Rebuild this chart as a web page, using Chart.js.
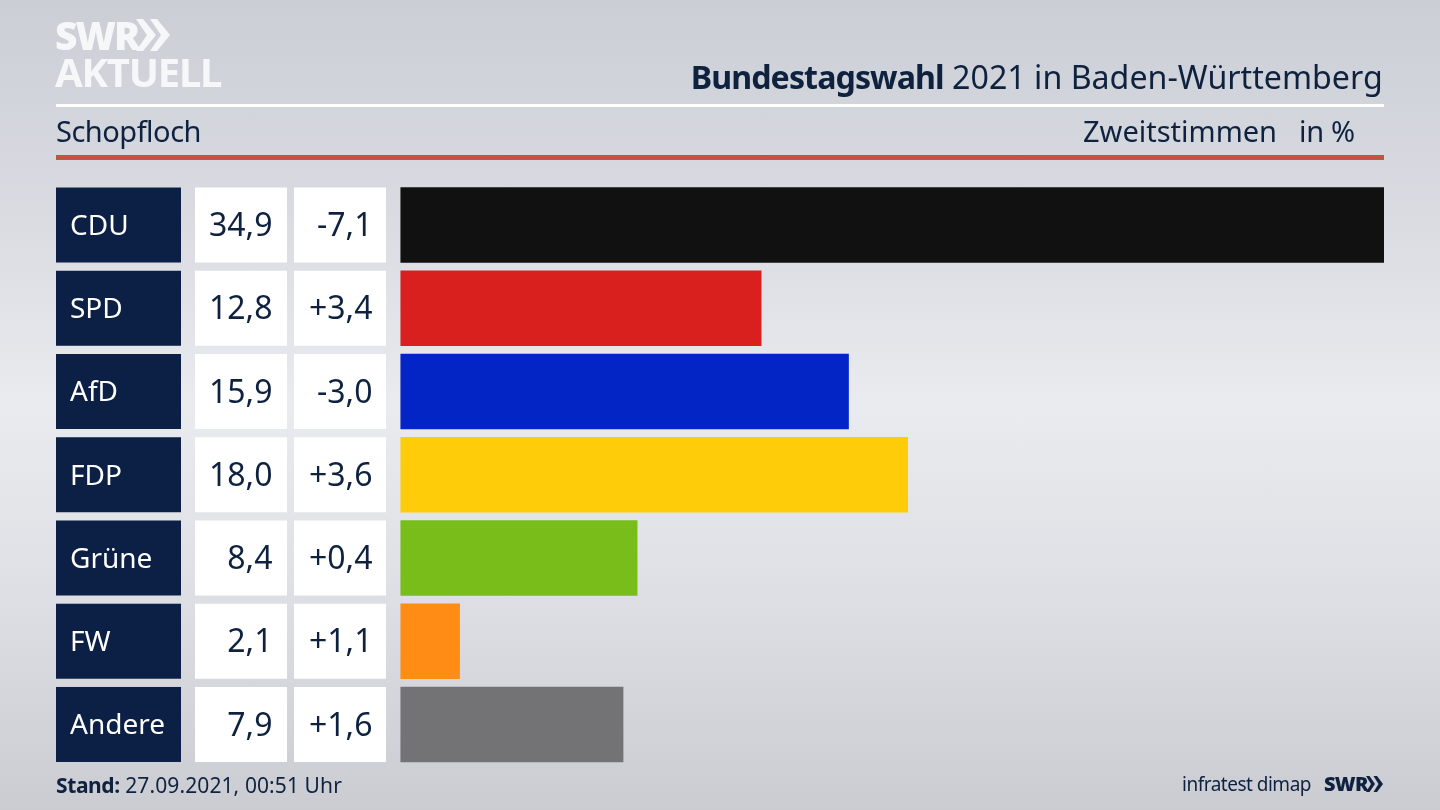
<!DOCTYPE html>
<html lang="de">
<head>
<meta charset="utf-8">
<title>Bundestagswahl 2021 in Baden-Württemberg</title>
<script src="https://cdn.jsdelivr.net/npm/chart.js@4"></script>
<style>
  html, body { margin: 0; padding: 0; }
  body {
    width: 1440px; height: 810px; overflow: hidden; position: relative;
    background: linear-gradient(180deg, #cbced5 0%, #dadce2 28%, #eaebef 50%, #dfe0e5 72%, #caccd2 100%);
    font-family: "Noto Sans", sans-serif; color: #0e2240;
  }
  canvas { position: absolute; left: 0; top: 0; }
  .txt { position: absolute; white-space: nowrap; line-height: 1; }
  .rule { position: absolute; left: 56px; width: 1328px; }
  .logo { color: #f6f7f9; font-weight: 900; }
</style>
</head>
<body>
<canvas id="chart" width="1440" height="810"></canvas>

<div class="txt logo" style="left:55px;top:15px;font-size:39px;letter-spacing:-2px">SWR</div>
<svg style="position:absolute;left:136px;top:19px" width="36" height="34" fill="#f6f7f9">
  <polygon points="0,0 7,0 20,16 7,32 0,32 11,16"/>
  <polygon points="14,0 21,0 34,16 21,32 14,32 25,16"/>
</svg>
<div class="txt logo" style="left:55px;top:52px;font-size:40px;font-weight:700;letter-spacing:-1.2px">AKTUELL</div>

<div class="txt" id="title" style="right:57px;top:60px;font-size:33px;transform:scaleX(0.975);transform-origin:right center"><b style="letter-spacing:-0.95px">Bundestagswahl</b> 2021 in Baden-Württemberg</div>
<div class="rule" style="top:104px;height:3px;background:#fff"></div>
<div class="txt" style="left:56px;top:116px;font-size:29px;letter-spacing:-0.5px">Schopfloch</div>
<div class="txt" style="left:1083px;top:116px;font-size:29px">Zweitstimmen</div>
<div class="txt" style="left:1299px;top:116px;font-size:29px;letter-spacing:-0.3px">in %</div>
<div class="rule" style="top:155px;height:5px;background:#c9503c"></div>

<div class="txt" style="left:56px;top:775px;font-size:21px;letter-spacing:0.1px"><b style="letter-spacing:-0.4px">Stand:</b> 27.09.2021, 00:51 Uhr</div>
<div class="txt" style="left:1182px;top:775px;font-size:19px;letter-spacing:-0.5px">infratest dimap</div>
<div class="txt" style="left:1324px;top:774px;font-size:20px;font-weight:900;letter-spacing:-0.7px">SWR</div>
<svg style="position:absolute;left:1366px;top:776px" width="18" height="16" fill="#0e2240">
  <polygon points="0,0 3.5,0 9,8 3.5,16 0,16 5,8"/>
  <polygon points="7.5,0 11,0 17,8 11,16 7.5,16 12.5,8"/>
</svg>

<script>
// Werte aus der Grafik
const parties = ['CDU', 'SPD', 'AfD', 'FDP', 'Grüne', 'FW', 'Andere'];
const shares = [34.9, 12.8, 15.9, 18.0, 8.4, 2.1, 7.9];
const changes = ['-7,1', '+3,4', '-3,0', '+3,6', '+0,4', '+1,1', '+1,6'];
const barColors = ['#111112', '#d9201f', '#0325c5', '#ffcc0a', '#79bd1a', '#ff8c14', '#737375'];

const navy = '#0b2044';
const ink = '#0e2240';
const fontName = '"Noto Sans", sans-serif';

// party name and the two number cells, left of each bar
const rowCells = {
  id: 'rowCells',
  beforeDatasetsDraw(chart) {
    const { ctx, scales: { y } } = chart;
    const h = 75;
    ctx.save();
    ctx.textBaseline = 'middle';
    parties.forEach((name, i) => {
      const top = y.getPixelForValue(i) - h / 2;
      const mid = top + h / 2 + 2;

      ctx.fillStyle = navy;
      ctx.fillRect(56, top, 125, h);
      ctx.fillStyle = '#ffffff';
      ctx.fillRect(195, top, 92, h);
      ctx.fillRect(294, top, 92, h);

      ctx.fillStyle = '#ffffff';
      ctx.textAlign = 'left';
      ctx.font = '28px ' + fontName;
      ctx.fillText(name, 70, mid);

      ctx.fillStyle = ink;
      ctx.textAlign = 'right';
      ctx.font = '32px ' + fontName;
      ctx.fillText(shares[i].toFixed(1).replace('.', ','), 272.5, mid);
      ctx.fillText(changes[i], 372.5, mid);
    });
    ctx.restore();
  }
};

new Chart(document.getElementById('chart'), {
  type: 'bar',
  data: {
    labels: parties,
    datasets: [{
      data: shares,
      backgroundColor: barColors,
      borderWidth: 0,
      barThickness: 75
    }]
  },
  options: {
    indexAxis: 'y',
    responsive: false,
    animation: false,
    layout: { padding: { left: 400.4, right: 56, top: 183.4, bottom: 43.9 } },
    plugins: { legend: { display: false }, tooltip: { enabled: false } },
    scales: {
      x: { display: false, min: 0, max: 34.9 },
      y: { display: false }
    }
  },
  plugins: [rowCells]
});
</script>
</body>
</html>
